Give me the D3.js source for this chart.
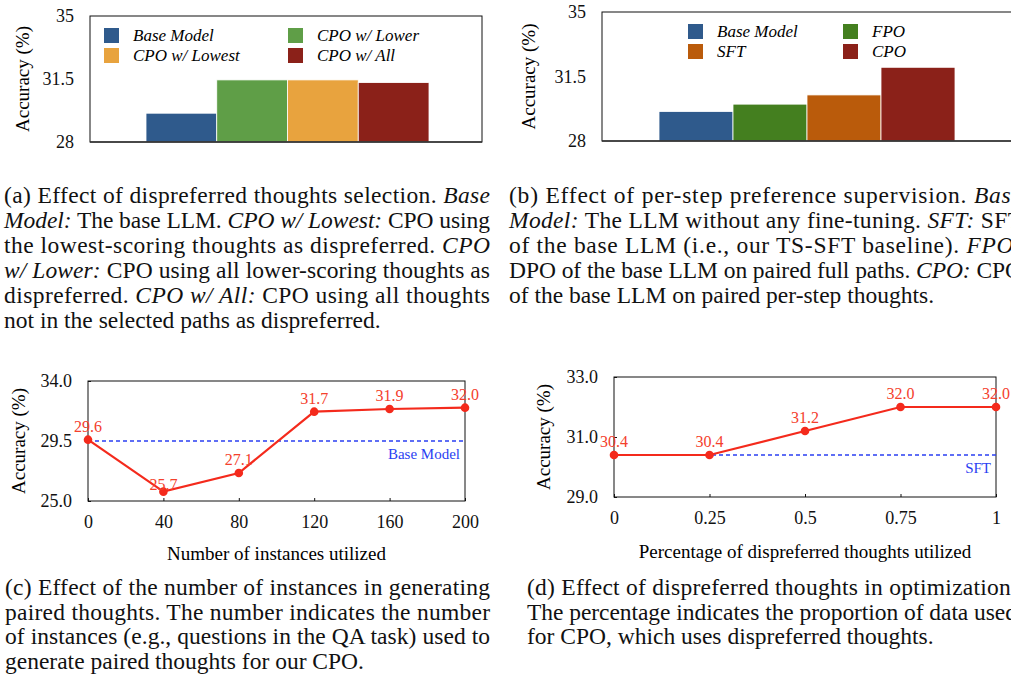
<!DOCTYPE html>
<html>
<head>
<meta charset="UTF-8">
<script src="https://d3js.org/d3.v7.min.js"></script>
<style>
  body { margin: 0; background: #fff; }
  text { font-family: "Liberation Serif", "Times New Roman", serif; }
  .cap { font-size: 23.5px; fill: #111; }
</style>
</head>
<body>
<svg id="fig" width="1011" height="677"></svg>
<script>
// ---- data ----
const aCats = ["Base Model", "CPO w/ Lower", "CPO w/ Lowest", "CPO w/ All"];
const aVals = [29.6, 31.45, 31.45, 31.3];
const aLegend = [["Base Model", "CPO w/ Lowest"], ["CPO w/ Lower", "CPO w/ All"]];

const bCats = ["Base Model", "FPO", "SFT", "CPO"];
const bVals = [29.6, 30.0, 30.5, 32.0];
const bLegend = [["Base Model", "SFT"], ["FPO", "CPO"]];

const barTicks = [28, 31.5, 35];

const cX = [0, 40, 80, 120, 160, 200];
const cVals = [29.6, 25.7, 27.1, 31.7, 31.9, 32.0];
const cRef = 29.5;
const cYTicks = [25.0, 29.5, 34.0];

const dX = [0, 0.25, 0.5, 0.75, 1];
const dVals = [30.4, 30.4, 31.2, 32.0, 32.0];
const dRef = 30.4;
const dYTicks = [29.0, 31.0, 33.0];

// captions: [text, italic]
const capA = [
  [["(a) Effect of dispreferred thoughts selection. ", 0], ["Base", 1]],
  [["Model:", 1], [" The base LLM. ", 0], ["CPO w/ Lowest:", 1], [" CPO using", 0]],
  [["the lowest-scoring thoughts as dispreferred. ", 0], ["CPO", 1]],
  [["w/ Lower:", 1], [" CPO using all lower-scoring thoughts as", 0]],
  [["dispreferred. ", 0], ["CPO w/ All:", 1], [" CPO using all thoughts", 0]],
  [["not in the selected paths as dispreferred.", 0]]
];
const capB = [
  [["(b) Effect of per-step preference supervision. ", 0], ["Base", 1]],
  [["Model:", 1], [" The LLM without any fine-tuning. ", 0], ["SFT:", 1], [" SFT", 0]],
  [["of the base LLM (i.e., our TS-SFT baseline). ", 0], ["FPO:", 1]],
  [["DPO of the base LLM on paired full paths. ", 0], ["CPO:", 1], [" CPO", 0]],
  [["of the base LLM on paired per-step thoughts.", 0]]
];
const capC = [
  [["(c) Effect of the number of instances in generating", 0]],
  [["paired thoughts. The number indicates the number", 0]],
  [["of instances (e.g., questions in the QA task) used to", 0]],
  [["generate paired thoughts for our CPO.", 0]]
];
const capD = [
  [["(d) Effect of dispreferred thoughts in optimization.", 0]],
  [["The percentage indicates the proportion of data used", 0]],
  [["for CPO, which uses dispreferred thoughts.", 0]]
];

const colors = {
  "Base Model": "#2f5a8c",
  "CPO w/ Lower": "#5f9e47",
  "CPO w/ Lowest": "#e8a33e",
  "CPO w/ All": "#8b2119",
  "FPO": "#447f1f",
  "SFT": "#ba5b0b",
  "CPO": "#8b2119"
};
const lineRed = "#f42a1c", labelRed = "#f4402c", refBlue = "#2a3ff2";

const svg = d3.select("#fig");

function yLabel(g, x, yc) {
  g.append("text").attr("transform", "translate(" + x + "," + yc + ") rotate(-90)")
    .attr("text-anchor", "middle").attr("dy", "0.35em")
    .style("font-size", "19px").text("Accuracy (%)");
}

// bar panel
function barPanel(p) {
  const g = svg.append("g");
  const y = d3.scaleLinear().domain([28, 35]).range([p.bottom, p.top]);
  const x = d3.scaleBand().domain(p.cats).range(p.barRange);

  g.selectAll("rect.bar").data(p.cats).join("rect")
    .attr("class", "bar")
    .attr("x", d => x(d)).attr("width", x.bandwidth())
    .attr("y", (d, i) => y(p.vals[i]))
    .attr("height", (d, i) => p.bottom - y(p.vals[i]))
    .attr("fill", d => colors[d])
    .attr("stroke", "#fff").attr("stroke-width", 0.8);

  g.append("rect").attr("x", p.left).attr("y", p.top)
    .attr("width", p.right - p.left).attr("height", p.bottom - p.top)
    .attr("fill", "none").attr("stroke", "#111").attr("stroke-width", 1);
  g.append("line").attr("x1", p.left).attr("x2", p.right)
    .attr("y1", p.bottom).attr("y2", p.bottom)
    .attr("stroke", "#333").attr("stroke-width", 1.6);

  const ax = g.append("g").attr("transform", "translate(" + p.left + ",0)")
    .call(d3.axisLeft(y).tickValues(barTicks).tickSize(0).tickPadding(16).tickFormat(d3.format("~g")));
  ax.select(".domain").remove();
  ax.selectAll("text").style("font-size", "18px").attr("fill", "#111")
    .style("font-family", "Liberation Serif");

  yLabel(g, p.ylabX, (p.top + p.bottom) / 2);

  // legend, two columns
  p.legend.forEach((col, ci) => {
    col.forEach((name, ri) => {
      const lx = p.legX + ci * p.legColW, ly = p.legY + ri * 20;
      g.append("rect").attr("x", lx).attr("y", ly).attr("width", 15).attr("height", 15)
        .attr("fill", colors[name]);
      g.append("text").attr("x", lx + 29).attr("y", ly + 13)
        .style("font-size", "17px").style("font-style", "italic").text(name);
    });
  });
}

barPanel({cats: aCats, vals: aVals, legend: aLegend,
  left: 90, right: 482, top: 16, bottom: 142, barRange: [146, 429],
  ylabX: 22, legX: 104, legY: 28, legColW: 184});
barPanel({cats: bCats, vals: bVals, legend: bLegend,
  left: 602, right: 1030, top: 12, bottom: 141, barRange: [659, 955],
  ylabX: 528, legX: 688, legY: 24, legColW: 155});

// line panel
function linePanel(p) {
  const g = svg.append("g");
  const x = d3.scaleLinear().domain(d3.extent(p.xs)).range([p.left, p.right]);
  const y = d3.scaleLinear().domain(d3.extent(p.yTicks)).range([p.bottom, p.top]);

  g.append("rect").attr("x", p.left).attr("y", p.top)
    .attr("width", p.right - p.left).attr("height", p.bottom - p.top)
    .attr("fill", "none").attr("stroke", "#111").attr("stroke-width", 1);

  const ay = g.append("g").attr("transform", "translate(" + p.left + ",0)")
    .call(d3.axisLeft(y).tickValues(p.yTicks).tickSizeInner(-3).tickSizeOuter(0)
      .tickPadding(16).tickFormat(d3.format(".1f")));
  ay.select(".domain").remove();
  const axx = g.append("g").attr("transform", "translate(0," + p.bottom + ")")
    .call(d3.axisBottom(x).tickValues(p.xs).tickSizeInner(-3).tickSizeOuter(0)
      .tickPadding(14).tickFormat(d3.format("~g")));
  axx.select(".domain").remove();
  g.selectAll(".tick line").attr("stroke", "#111");
  g.selectAll(".tick text").style("font-size", "18px").attr("fill", "#111")
    .style("font-family", "Liberation Serif");

  // reference dashed line
  g.append("line").attr("x1", p.left).attr("x2", p.right)
    .attr("y1", y(p.ref)).attr("y2", y(p.ref))
    .attr("stroke", refBlue).attr("stroke-width", 1.6).attr("stroke-dasharray", "4,3");
  g.append("text").attr("x", p.right - 5).attr("y", y(p.ref) + 18)
    .attr("text-anchor", "end").attr("fill", refBlue)
    .style("font-size", "15px").text(p.refLabel);

  const pts = p.xs.map((v, i) => [v, p.vals[i]]);
  g.append("path").datum(pts)
    .attr("d", d3.line().x(d => x(d[0])).y(d => y(d[1])))
    .attr("fill", "none").attr("stroke", lineRed).attr("stroke-width", 2.2);
  g.selectAll("circle.pt").data(pts).join("circle")
    .attr("class", "pt").attr("cx", d => x(d[0])).attr("cy", d => y(d[1]))
    .attr("r", 4.3).attr("fill", lineRed);
  const vmin = d3.min(p.vals);
  g.selectAll("text.val").data(pts).join("text")
    .attr("class", "val").attr("x", d => x(d[0]))
    .attr("y", d => y(d[1]) - (p.lowLabel && d[1] === vmin ? 2 : 8))
    .attr("text-anchor", "middle").attr("fill", labelRed)
    .style("font-size", "16px").text(d => d[1].toFixed(1));

  yLabel(g, p.ylabX, (p.top + p.bottom) / 2);
  g.append("text").attr("x", (p.left + p.right) / 2).attr("y", p.xlabY)
    .attr("text-anchor", "middle").style("font-size", "19px").text(p.xlabel);
}

linePanel({xs: cX, vals: cVals, ref: cRef, refLabel: "Base Model", yTicks: cYTicks,
  left: 88, right: 465, top: 381, bottom: 501, ylabX: 18, xlabY: 560, lowLabel: true,
  xlabel: "Number of instances utilized"});
linePanel({xs: dX, vals: dVals, ref: dRef, refLabel: "SFT", yTicks: dYTicks,
  left: 614, right: 996, top: 377, bottom: 497, ylabX: 543, xlabY: 558, lowLabel: false,
  xlabel: "Percentage of dispreferred thoughts utilized"});

// captions
function caption(lines, x0, y0, lh, width) {
  lines.forEach((segs, i) => {
    const t = svg.append("text").attr("class", "cap").attr("x", x0).attr("y", y0 + i * lh)
      .attr("xml:space", "preserve");
    segs.forEach(s => {
      t.append("tspan").style("font-style", s[1] ? "italic" : "normal").text(s[0]);
    });
    if (i < lines.length - 1) {
      t.attr("textLength", width).attr("lengthAdjust", "spacing");
    }
  });
}
caption(capA, 4, 203, 25, 486);
caption(capB, 509, 203, 25, 513);
caption(capC, 5, 595, 24.5, 485);
caption(capD, 527, 595, 24.5, 490);
</script>
</body>
</html>
